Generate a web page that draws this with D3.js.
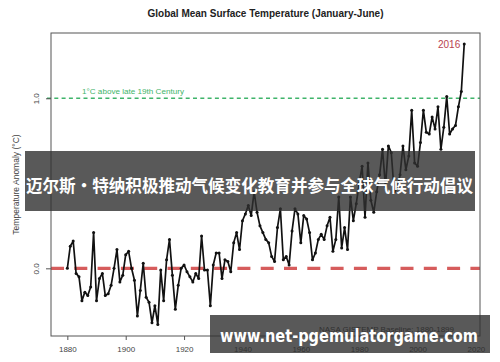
<!DOCTYPE html>
<html><head><meta charset="utf-8">
<script src="https://cdn.jsdelivr.net/npm/d3@7"></script>
<style>html,body{margin:0;padding:0;background:#fff;}svg{display:block;}</style>
</head><body>
<svg id="c" width="500" height="362"></svg>
<script>
const years = [
 1880,1881,1882,1883,1884,1885,1886,1887,1888,1889,
 1890,1891,1892,1893,1894,1895,1896,1897,1898,1899,
 1900,1901,1902,1903,1904,1905,1906,1907,1908,1909,
 1910,1911,1912,1913,1914,1915,1916,1917,1918,1919,
 1920,1921,1922,1923,1924,1925,1926,1927,1928,1929,
 1930,1931,1932,1933,1934,1935,1936,1937,1938,1939,
 1940,1941,1942,1943,1944,1945,1946,1947,1948,1949,
 1950,1951,1952,1953,1954,1955,1956,1957,1958,1959,
 1960,1961,1962,1963,1964,1965,1966,1967,1968,1969,
 1970,1971,1972,1973,1974,1975,1976,1977,1978,1979,
 1980,1981,1982,1983,1984,1985,1986,1987,1988,1989,
 1990,1991,1992,1993,1994,1995,1996,1997,1998,1999,
 2000,2001,2002,2003,2004,2005,2006,2007,2008,2009,
 2010,2011,2012,2013,2014,2015,2016];
const anomalies = [
 0.00,0.13,0.16,-0.03,-0.05,-0.19,-0.14,-0.16,-0.11,0.21,
 -0.19,-0.06,-0.03,-0.16,-0.15,-0.10,0.00,0.11,-0.08,-0.04,
 0.08,0.10,0.00,-0.07,-0.28,-0.13,0.03,-0.17,-0.20,-0.32,
 -0.22,-0.33,-0.01,-0.19,0.05,0.17,-0.04,-0.24,-0.10,0.00,
 0.02,-0.02,-0.05,-0.08,-0.03,-0.06,0.19,-0.01,-0.01,-0.22,
 0.02,0.09,0.09,-0.06,0.05,0.04,-0.02,0.15,0.21,0.11,
 0.28,0.32,0.37,0.31,0.45,0.33,0.25,0.21,0.17,0.15,
 0.07,0.04,0.24,0.35,0.05,0.07,0.02,0.22,0.35,0.32,
 0.15,0.31,0.29,0.21,0.05,0.09,0.17,0.20,0.17,0.25,
 0.30,0.10,0.17,0.42,0.12,0.24,0.11,0.42,0.28,0.38,
 0.50,0.60,0.30,0.62,0.40,0.33,0.45,0.55,0.70,0.48,
 0.72,0.68,0.45,0.47,0.55,0.72,0.58,0.66,0.93,0.62,
 0.60,0.74,0.93,0.80,0.79,0.89,0.82,0.95,0.70,0.83,
 1.01,0.79,0.82,0.84,0.95,1.04,1.32];
const xTicks = [1880,1900,1920,1940,1960,1980,2000,2020];
const yTicks = [0.0, 1.0];
const refLines = [{v:1.0, label:"1°C above late 19th Century"}, {v:0.0, label:""}];
const titleText = "Global Mean Surface Temperature (January-June)";
const yLabel = "Temperature Anomaly (°C)";
const sourceText = "NASA GISTEMP Baseline: 1880-1899";
const highlightYear = 2016;
const overlayText1 = "迈尔斯•特纳积极推动气候变化教育并参与全球气候行动倡议";
const overlayText2 = "www.net-pgemulatorgame.com";

const svg = d3.select("#c");
const L=51, R=480, T=33, B=336;
const x = d3.scaleLinear().domain([1874.4, 2021.4]).range([L, R]);
const y = d3.scaleLinear().domain([-0.398, 1.384]).range([B, T]);
const data = years.map((yr,i)=>({yr, v:anomalies[i]}));
const font = "Liberation Sans, Arial, sans-serif";

// title
svg.append("text").attr("x",(L+R)/2).attr("y",17).attr("text-anchor","middle")
  .attr("font-family",font).attr("font-weight","bold").attr("font-size",10).attr("fill","#222")
  .text(titleText);

// reference lines
svg.append("line").attr("x1",L-4).attr("x2",R).attr("y1",y(refLines[0].v)).attr("y2",y(refLines[0].v))
  .attr("stroke","#3fb46a").attr("stroke-width",1.4).attr("stroke-dasharray","4,3.3");
svg.append("text").attr("x",82).attr("y",y(refLines[0].v)-4).attr("font-family",font).attr("font-size",8)
  .attr("fill","#3fb46a").attr("textLength",102).attr("lengthAdjust","spacingAndGlyphs").text(refLines[0].label);
svg.append("line").attr("x1",L).attr("x2",R).attr("y1",y(refLines[1].v)).attr("y2",y(refLines[1].v))
  .attr("stroke","#d65c5c").attr("stroke-width",3.4).attr("stroke-dasharray","13,10.3");

// data line
svg.append("path").datum(data).attr("fill","none").attr("stroke","#111").attr("stroke-width",1.7)
  .attr("stroke-linejoin","round")
  .attr("d", d3.line().x(d=>x(d.yr)).y(d=>y(d.v)));
svg.selectAll("circle.pt").data(data).join("circle").attr("class","pt")
  .attr("cx",d=>x(d.yr)).attr("cy",d=>y(d.v)).attr("r",1.5).attr("fill","#111");

// 2016 label
const hl = data.find(d=>d.yr===highlightYear);
svg.append("text").attr("x",x(hl.yr)-4).attr("y",y(hl.v)+4).attr("text-anchor","end")
  .attr("font-family",font).attr("font-size",10).attr("fill","#b8434f").text(String(highlightYear));

// box
svg.append("rect").attr("x",L).attr("y",T).attr("width",R-L).attr("height",B-T)
  .attr("fill","none").attr("stroke","#555").attr("stroke-width",1);

// axes
const xa = svg.append("g").attr("transform",`translate(0,${B})`)
  .call(d3.axisBottom(x).tickValues(xTicks).tickFormat(d3.format("d")).tickSize(4).tickPadding(6));
const ya = svg.append("g").attr("transform",`translate(${L},0)`)
  .call(d3.axisLeft(y).tickValues(yTicks).tickFormat(d3.format(".1f")).tickSize(5).tickPadding(4));
[xa,ya].forEach(g=>{
  g.select(".domain").remove();
  g.selectAll("line").attr("stroke","#555");
  g.selectAll("text").attr("font-family",font).attr("font-size",8).attr("fill","#444");
});
ya.selectAll(".tick text").attr("text-anchor","middle").attr("dy",0)
  .attr("transform","translate(-12,0) rotate(-90)").attr("x",0).attr("y",0);

// y label
svg.append("text").attr("transform",`translate(19,${(T+B)/2}) rotate(-90)`).attr("text-anchor","middle")
  .attr("font-family",font).attr("font-size",8.5).attr("fill","#444").text(yLabel);

// source
svg.append("text").attr("x",454).attr("y",332).attr("text-anchor","end")
  .attr("font-family",font).attr("font-size",8).attr("fill","#333").text(sourceText);

// overlay bands
svg.append("rect").attr("x",25).attr("y",151).attr("width",450).attr("height",60)
  .attr("fill","rgba(48,48,48,0.8)");
svg.append("text").attr("x",26).attr("y",192)
  .attr("font-family","Noto Sans CJK SC, sans-serif").attr("font-weight","bold").attr("font-size",17)
  .attr("textLength",447).attr("lengthAdjust","spacingAndGlyphs")
  .attr("fill","#fff").text(overlayText1);
svg.append("rect").attr("x",210).attr("y",315).attr("width",280).attr("height",38)
  .attr("fill","rgba(48,48,48,0.8)");
svg.append("text").attr("x",220).attr("y",342)
  .attr("font-family","DejaVu Sans, sans-serif").attr("font-weight","bold").attr("font-size",18)
  .attr("textLength",258).attr("lengthAdjust","spacingAndGlyphs")
  .attr("fill","#fff").text(overlayText2);
</script>
</body></html>
